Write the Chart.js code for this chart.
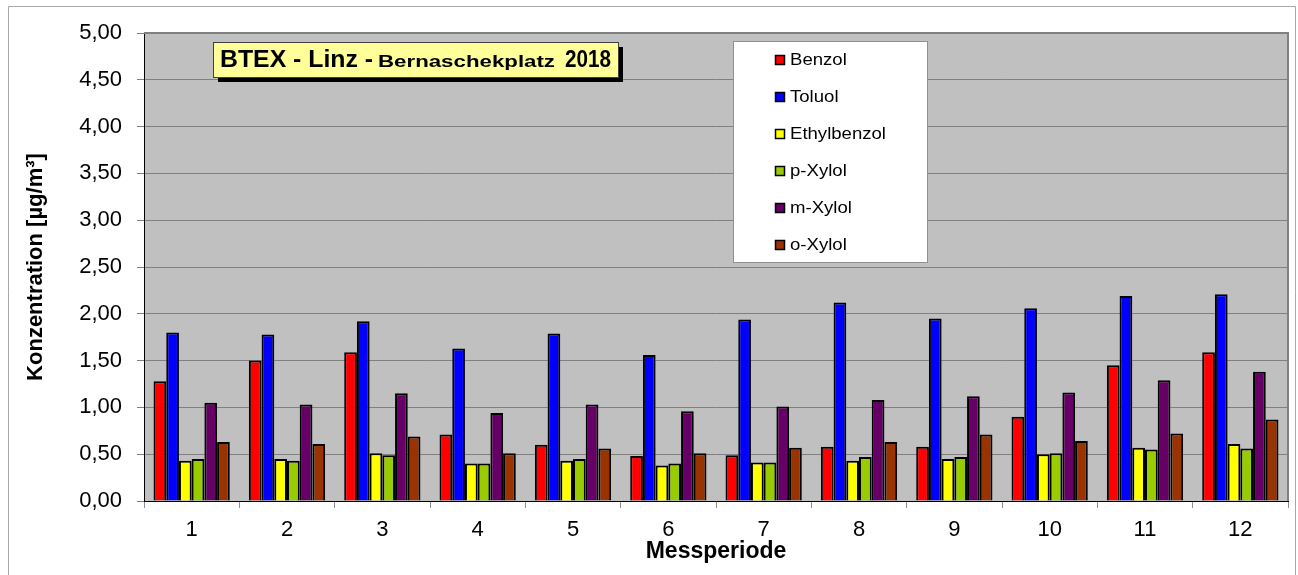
<!DOCTYPE html>
<html>
<head>
<meta charset="utf-8">
<script src="https://cdn.jsdelivr.net/npm/chart.js@4.4.1/dist/chart.umd.min.js"></script>
<style>
  html, body { margin: 0; padding: 0; background: #ffffff; }
  #wrap { width: 1298px; height: 575px; }
</style>
</head>
<body>
<div id="wrap"><canvas id="c" width="1298" height="575"></canvas></div>
<script>
// ---- data ----
const categories = ['1','2','3','4','5','6','7','8','9','10','11','12'];
const seriesNames = ['Benzol','Toluol','Ethylbenzol','p-Xylol','m-Xylol','o-Xylol'];
const benzol      = [1.28, 1.50, 1.59, 0.71, 0.60, 0.48, 0.49, 0.58, 0.58, 0.90, 1.45, 1.59];
const toluol      = [1.80, 1.78, 1.92, 1.63, 1.79, 1.56, 1.94, 2.12, 1.95, 2.06, 2.19, 2.21];
const ethylbenzol = [0.43, 0.45, 0.51, 0.40, 0.43, 0.38, 0.41, 0.43, 0.45, 0.50, 0.57, 0.61];
const pXylol      = [0.45, 0.43, 0.49, 0.40, 0.45, 0.40, 0.41, 0.47, 0.47, 0.51, 0.55, 0.56];
const mXylol      = [1.05, 1.03, 1.15, 0.94, 1.03, 0.96, 1.01, 1.08, 1.12, 1.16, 1.29, 1.38];
const oXylol      = [0.63, 0.61, 0.69, 0.51, 0.56, 0.51, 0.57, 0.63, 0.71, 0.64, 0.72, 0.87];
const seriesColors = ['#ff0000','#0000ff','#ffff00','#99cc00','#660066','#993300'];
const yTickValues = [0, 0.5, 1, 1.5, 2, 2.5, 3, 3.5, 4, 4.5, 5];
const titleParts = ['BTEX - Linz -', 'Bernaschekplatz', '2018'];
const yTitle = 'Konzentration [µg/m³]';
const xTitle = 'Messperiode';

const FONT = "'Liberation Sans', Arial, 'DejaVu Sans', sans-serif";
const allSeries = [benzol, toluol, ethylbenzol, pXylol, mXylol, oXylol];

const datasets = allSeries.map((d, i) => ({
  label: seriesNames[i],
  data: d,
  backgroundColor: seriesColors[i],
  borderColor: '#000000',
  borderWidth: 2,
  categoryPercentage: 0.8,
  barPercentage: 1.0
}));

// title segment layout: [x, width, fontSize]
const titleLayout = [[220, 153, 23], [378, 177, 17], [565, 46, 23]];

const framePlugin = {
  id: 'frame',
  beforeDraw(chart) {
    const ctx = chart.ctx;
    const a = chart.chartArea;
    ctx.save();
    ctx.fillStyle = '#ffffff';
    ctx.fillRect(0, 0, chart.width, chart.height);
    ctx.strokeStyle = '#a8a8a8';
    ctx.lineWidth = 1;
    ctx.beginPath();
    ctx.moveTo(8.5, 580); ctx.lineTo(8.5, 6.5); ctx.lineTo(1295.5, 6.5); ctx.lineTo(1295.5, 580);
    ctx.stroke();
    ctx.fillStyle = '#c0c0c0';
    ctx.fillRect(a.left, a.top, a.right - a.left, a.bottom - a.top);
    ctx.restore();
  },
  afterDatasetsDraw(chart) {
    const ctx = chart.ctx;
    const a = chart.chartArea;
    ctx.save();
    ctx.strokeStyle = '#808080';
    ctx.lineWidth = 2;
    ctx.beginPath();
    ctx.moveTo(a.left, a.top); ctx.lineTo(a.right, a.top); ctx.lineTo(a.right, a.bottom);
    ctx.stroke();
    ctx.restore();
  },
  afterDraw(chart) {
    const ctx = chart.ctx;
    ctx.save();
    const bx = 213, by = 42, bw = 405, bh = 35;
    ctx.fillStyle = '#000000';
    ctx.fillRect(bx + 5, by + 5, bw, bh);
    ctx.fillStyle = '#ffff99';
    ctx.fillRect(bx, by, bw, bh);
    ctx.strokeStyle = '#404040';
    ctx.lineWidth = 1;
    ctx.strokeRect(bx + 0.5, by + 0.5, bw, bh);
    ctx.fillStyle = '#000000';
    ctx.textBaseline = 'alphabetic';
    ctx.textAlign = 'left';
    titleParts.forEach((t, i) => {
      const [tx, tw, fs] = titleLayout[i];
      ctx.font = 'bold ' + fs + 'px ' + FONT;
      const s = tw / ctx.measureText(t).width;
      ctx.save();
      ctx.translate(tx, 67);
      ctx.scale(s, 1);
      ctx.fillText(t, 0, 0);
      ctx.restore();
    });
    ctx.restore();

    ctx.save();
    ctx.fillStyle = '#ffffff';
    ctx.fillRect(734, 42, 193, 220);
    ctx.strokeStyle = '#909090';
    ctx.lineWidth = 1;
    ctx.strokeRect(733.5, 41.5, 194, 221);
    ctx.font = '16px ' + FONT;
    const lsx = 96 / ctx.measureText('Ethylbenzol').width;
    chart.data.datasets.forEach((ds, i) => {
      const cy = 60 + i * 36.9;
      ctx.fillStyle = ds.backgroundColor;
      ctx.fillRect(775, Math.round(cy) - 5, 10, 10);
      ctx.strokeStyle = '#000000';
      ctx.lineWidth = 1.5;
      ctx.strokeRect(775.5, Math.round(cy) - 4.5, 9, 9);
      ctx.save();
      ctx.translate(790, cy + 1);
      ctx.scale(lsx, 1);
      ctx.fillStyle = '#000000';
      ctx.textBaseline = 'middle';
      ctx.textAlign = 'left';
      ctx.fillText(ds.label, 0, 0);
      ctx.restore();
    });
    ctx.restore();
  }
};

new Chart(document.getElementById('c'), {
  type: 'bar',
  data: { labels: categories, datasets: datasets },
  options: {
    responsive: false,
    animation: false,
    devicePixelRatio: 1,
    layout: { padding: { left: 8, top: 33, right: 10, bottom: 0 } },
    plugins: { legend: { display: false }, title: { display: false }, tooltip: { enabled: false } },
    scales: {
      x: {
        offset: true,
        grid: { display: true, drawOnChartArea: false, drawTicks: true, tickLength: 7, color: '#909090', offset: true },
        border: { display: true, color: '#000000', width: 1 },
        ticks: { color: '#000000', font: { family: FONT, size: 22 }, padding: 9, maxRotation: 0 },
        title: { display: true, text: xTitle, color: '#000000', font: { family: FONT, size: 23, weight: 'bold' }, padding: { top: 0, bottom: 10 } },
        afterFit(scale) { scale.height = 74; }
      },
      y: {
        min: 0, max: 5,
        afterBuildTicks(scale) { scale.ticks = yTickValues.map(v => ({ value: v })); },
        grid: { color: '#808080', lineWidth: 1, drawTicks: true, tickLength: 7 },
        border: { display: true, color: '#000000', width: 1 },
        ticks: {
          color: '#000000', font: { family: FONT, size: 22 }, padding: 15,
          callback: (v) => Number(v).toFixed(2).replace('.', ',')
        },
        title: { display: true, text: yTitle, color: '#000000', font: { family: FONT, size: 22, weight: 'bold' }, padding: { top: 15, bottom: 0 } },
        afterFit(scale) { scale.width = 136; }
      }
    }
  },
  plugins: [framePlugin]
});
</script>
</body>
</html>
